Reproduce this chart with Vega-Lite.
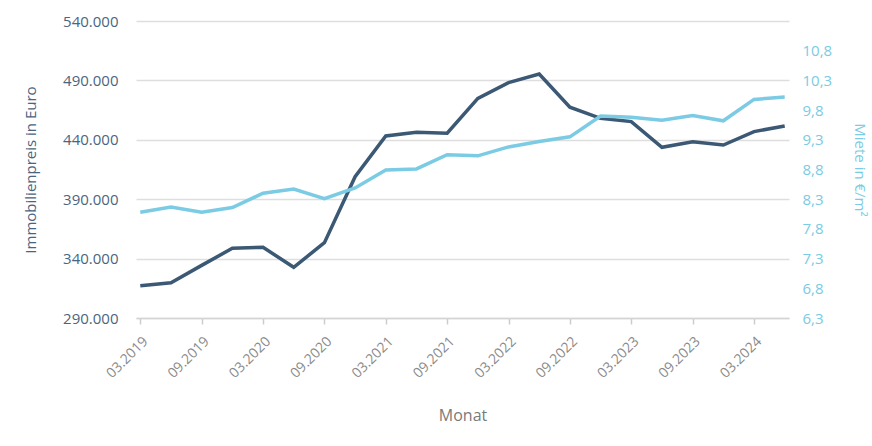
{
  "$schema": "https://vega.github.io/schema/vega-lite/v6.json",
  "width": 653,
  "height": 297,
  "autosize": "none",
  "padding": {"left": 136, "top": 21, "right": 83, "bottom": 128},
  "background": "white",
  "config": {
    "font": "Open Sans",
    "view": {"stroke": null}
  },
  "data": {
    "values": [
      {"Monat": "03.2019", "Immobilienpreis": 317200, "Miete": 8.08},
      {"Monat": "06.2019", "Immobilienpreis": 319700, "Miete": 8.17},
      {"Monat": "09.2019", "Immobilienpreis": 334300, "Miete": 8.08},
      {"Monat": "12.2019", "Immobilienpreis": 348700, "Miete": 8.16},
      {"Monat": "03.2020", "Immobilienpreis": 349500, "Miete": 8.40},
      {"Monat": "06.2020", "Immobilienpreis": 332700, "Miete": 8.47},
      {"Monat": "09.2020", "Immobilienpreis": 353400, "Miete": 8.31},
      {"Monat": "12.2020", "Immobilienpreis": 408900, "Miete": 8.49},
      {"Monat": "03.2021", "Immobilienpreis": 443200, "Miete": 8.79},
      {"Monat": "06.2021", "Immobilienpreis": 446300, "Miete": 8.81},
      {"Monat": "09.2021", "Immobilienpreis": 445500, "Miete": 9.05},
      {"Monat": "12.2021", "Immobilienpreis": 474900, "Miete": 9.03},
      {"Monat": "03.2022", "Immobilienpreis": 488100, "Miete": 9.18},
      {"Monat": "06.2022", "Immobilienpreis": 495400, "Miete": 9.27},
      {"Monat": "09.2022", "Immobilienpreis": 467400, "Miete": 9.35},
      {"Monat": "12.2022", "Immobilienpreis": 458100, "Miete": 9.70},
      {"Monat": "03.2023", "Immobilienpreis": 455300, "Miete": 9.68},
      {"Monat": "06.2023", "Immobilienpreis": 433700, "Miete": 9.63},
      {"Monat": "09.2023", "Immobilienpreis": 438400, "Miete": 9.71},
      {"Monat": "12.2023", "Immobilienpreis": 435600, "Miete": 9.62},
      {"Monat": "03.2024", "Immobilienpreis": 446900, "Miete": 9.98},
      {"Monat": "06.2024", "Immobilienpreis": 451600, "Miete": 10.02}
    ]
  },
  "encoding": {
    "x": {
      "field": "Monat",
      "type": "ordinal",
      "sort": null,
      "scale": {"type": "point", "padding": 0.14},
      "axis": {
        "title": "Monat",
        "values": ["03.2019", "09.2019", "03.2020", "09.2020", "03.2021", "09.2021", "03.2022", "09.2022", "03.2023", "09.2023", "03.2024"],
        "labelAngle": -45,
        "labelFontSize": 14,
        "labelColor": "#8a8a8a",
        "labelPadding": 10,
        "tickColor": "#cccccc",
        "tickSize": 6,
        "tickWidth": 1.5,
        "domainColor": "#d4d4d4",
        "domainWidth": 1.5,
        "titleFontSize": 16,
        "titleFontWeight": "normal",
        "titleColor": "#7a7a7a",
        "titlePadding": 27,
        "grid": false
      }
    }
  },
  "layer": [
    {
      "mark": {"type": "line", "color": "#3b5875", "strokeWidth": 3.5},
      "encoding": {
        "y": {
          "field": "Immobilienpreis",
          "type": "quantitative",
          "scale": {"domain": [290000, 540000], "nice": false, "zero": false},
          "axis": {
            "title": "Immobilienpreis in Euro",
            "values": [290000, 340000, 390000, 440000, 490000, 540000],
            "labelExpr": "replace(format(datum.value, ',.0f'), ',', '.')",
            "labelFontSize": 15,
            "labelColor": "#4a6580",
            "labelPadding": 18,
            "ticks": false,
            "domain": false,
            "grid": true,
            "gridColor": "#dedede",
            "gridWidth": 1.5,
            "titleFontSize": 15,
            "titleFontWeight": "normal",
            "titleColor": "#4a6580",
            "titlePadding": 24
          }
        }
      }
    },
    {
      "mark": {"type": "line", "color": "#7acbe3", "strokeWidth": 3.5},
      "encoding": {
        "y": {
          "field": "Miete",
          "type": "quantitative",
          "scale": {"domain": [6.3, 11.3], "nice": false, "zero": false},
          "axis": {
            "orient": "right",
            "title": "Miete in €/m²",
            "values": [6.3, 6.8, 7.3, 7.8, 8.3, 8.8, 9.3, 9.8, 10.3, 10.8],
            "labelExpr": "replace(format(datum.value, '.1f'), '.', ',')",
            "labelFontSize": 15,
            "labelColor": "#7acbe3",
            "labelPadding": 13,
            "ticks": false,
            "domain": false,
            "grid": false,
            "titleFontSize": 15,
            "titleFontWeight": "normal",
            "titleColor": "#7acbe3",
            "titlePadding": 20
          }
        }
      }
    }
  ],
  "resolve": {"scale": {"y": "independent"}}
}
